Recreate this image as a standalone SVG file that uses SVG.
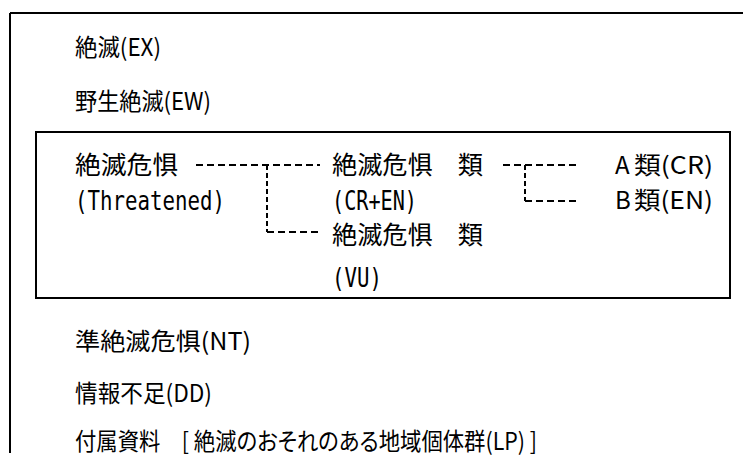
<svg xmlns="http://www.w3.org/2000/svg" width="743" height="458" viewBox="0 0 743 458">
<style>
.p{font-family:"Noto Sans CJK JP","Noto Sans",sans-serif;font-size:24px;fill:#000}
.m{font-family:"DejaVu Sans Mono","Noto Sans CJK JP",monospace;font-size:27px;fill:#000}
.k{font-family:"Noto Sans CJK JP",sans-serif;font-size:25px;fill:#000}
.frame{fill:none;stroke:#000;stroke-width:2}
.dh{fill:none;stroke:#000;stroke-width:2;stroke-dasharray:7 4}
.dv{fill:none;stroke:#000;stroke-width:2;stroke-dasharray:5 3}
.palt{font-feature-settings:"palt"}
</style>
<rect width="743" height="458" fill="#fff"/>
<g id="frame">
<path class="frame" d="M10,13 H743 M10,13 V453"/>
<rect class="frame" x="36" y="132" width="694" height="166"/>
</g>
<g id="connectors">
<path class="dh" d="M196,165 H320"/>
<path class="dv" d="M267,165 V232"/>
<path class="dh" d="M267,232 H320"/>
<path class="dh" d="M503,165 H577"/>
<path class="dv" d="M525,165 V201"/>
<path class="dh" d="M525,201 H577"/>
</g>
<g id="ex"><text class="p" x="75" y="56" textLength="86" lengthAdjust="spacingAndGlyphs">絶滅(EX)</text></g>
<g id="ew"><text class="p" x="75" y="110" textLength="136" lengthAdjust="spacingAndGlyphs">野生絶滅(EW)</text></g>
<g id="threatened">
<text class="k" x="75" y="174" textLength="103" lengthAdjust="spacingAndGlyphs">絶滅危惧</text>
<text class="m" x="75" y="210" textLength="150" lengthAdjust="spacingAndGlyphs">(Threatened)</text>
</g>
<g id="cr-en">
<text class="k" x="332" y="174" textLength="151" lengthAdjust="spacingAndGlyphs">絶滅危惧　類</text>
<text class="m" x="332" y="210" textLength="85" lengthAdjust="spacingAndGlyphs">(CR+EN)</text>
</g>
<g id="vu">
<text class="k" x="332" y="244" textLength="151" lengthAdjust="spacingAndGlyphs">絶滅危惧　類</text>
<text class="m" x="332" y="287" textLength="50" lengthAdjust="spacingAndGlyphs">(VU)</text>
</g>
<g id="cr"><text class="p" x="615" y="174">A<tspan x="634" textLength="79" lengthAdjust="spacingAndGlyphs">類(CR)</tspan></text></g>
<g id="en"><text class="p" x="615" y="209">B<tspan x="634" textLength="79" lengthAdjust="spacingAndGlyphs">類(EN)</tspan></text></g>
<g id="nt"><text class="p" x="75" y="350" textLength="176" lengthAdjust="spacingAndGlyphs">準絶滅危惧(NT)</text></g>
<g id="dd"><text class="p" x="75" y="402" textLength="137" lengthAdjust="spacingAndGlyphs">情報不足(DD)</text></g>
<g id="lp"><text class="p palt" x="75" y="450" textLength="462" lengthAdjust="spacingAndGlyphs">付属資料　[ 絶滅のおそれのある地域個体群(LP) ]</text></g>
</svg>
